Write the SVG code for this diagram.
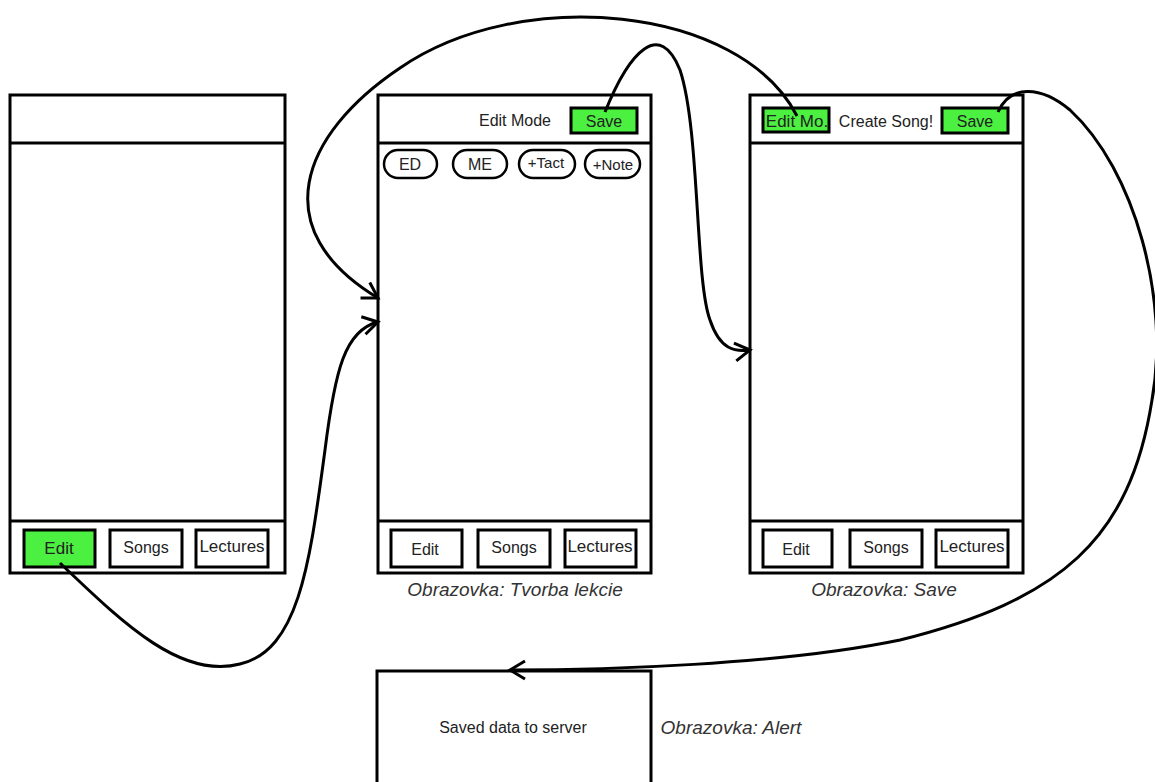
<svg xmlns="http://www.w3.org/2000/svg" width="1155" height="782" viewBox="0 0 1155 782">
<style>
.frame{fill:#fff;stroke:#000;stroke-width:3}
.sep{stroke:#000;stroke-width:3}
.btn{fill:#fff;stroke:#000;stroke-width:3}
.gbtn{fill:#4cf040;stroke:#000;stroke-width:3}
.pill{fill:#fff;stroke:#000;stroke-width:2.5}
.t{font-family:"Liberation Sans",Arial,sans-serif;font-size:16px;fill:#222;text-anchor:middle;dominant-baseline:central}
.cap{font-family:"Liberation Sans",Arial,sans-serif;font-size:19px;font-style:italic;fill:#333;text-anchor:middle;dominant-baseline:central}
.conn{fill:none;stroke:#000;stroke-width:3}
</style>
<defs>
<marker id="arr" markerUnits="userSpaceOnUse" markerWidth="24" markerHeight="24" refX="18" refY="10" orient="auto" viewBox="0 0 24 20">
<path d="M3,1 L18,10 L3,19" fill="none" stroke="#000" stroke-width="3"/>
</marker>
</defs>
<g id="screen1">
<rect class="frame" x="10" y="95" width="275" height="478"/>
<line class="sep" x1="10" y1="143" x2="285" y2="143"/>
<line class="sep" x1="10" y1="521" x2="285" y2="521"/>
<rect class="gbtn" x="24" y="530" width="71" height="37"/>
<text class="t" x="59" y="548" style="font-size:17px">Edit</text>
<rect class="btn" x="110" y="530" width="72" height="37"/>
<text class="t" x="146" y="547">Songs</text>
<rect class="btn" x="196" y="530" width="72" height="37"/>
<text class="t" x="232" y="546" style="font-size:17px">Lectures</text>
</g>
<g id="screen2">
<rect class="frame" x="378" y="95" width="273" height="478"/>
<line class="sep" x1="378" y1="143" x2="651" y2="143"/>
<line class="sep" x1="378" y1="521" x2="651" y2="521"/>
<text class="t" x="515" y="120">Edit Mode</text>
<rect class="gbtn" x="571" y="108" width="66" height="25"/>
<text class="t" x="604" y="121">Save</text>
<rect class="pill" x="384" y="150" width="53" height="28" rx="14"/>
<text class="t" x="410" y="164">ED</text>
<rect class="pill" x="453" y="150" width="54" height="28" rx="14"/>
<text class="t" x="480" y="164">ME</text>
<rect class="pill" x="519" y="150" width="56" height="28" rx="14"/>
<text class="t" x="546" y="162" style="font-size:15px">+Tact</text>
<rect class="pill" x="585" y="150" width="55" height="28" rx="14"/>
<text class="t" x="613" y="164" style="font-size:15px">+Note</text>
<rect class="btn" x="391" y="530" width="71" height="37"/>
<text class="t" x="425" y="549">Edit</text>
<rect class="btn" x="478" y="530" width="72" height="37"/>
<text class="t" x="514" y="547">Songs</text>
<rect class="btn" x="565" y="530" width="71" height="37"/>
<text class="t" x="600" y="546" style="font-size:17px">Lectures</text>
<text class="cap" x="515" y="589">Obrazovka: Tvorba lekcie</text>
</g>
<g id="screen3">
<rect class="frame" x="750" y="95" width="273" height="478"/>
<line class="sep" x1="750" y1="143" x2="1023" y2="143"/>
<line class="sep" x1="750" y1="521" x2="1023" y2="521"/>
<rect class="gbtn" x="763" y="108" width="66" height="24"/>
<text class="t" x="797" y="121" style="font-size:17px">Edit Mo.</text>
<text class="t" x="886" y="121">Create Song!</text>
<rect class="gbtn" x="942" y="108" width="66" height="25"/>
<text class="t" x="975" y="121">Save</text>
<rect class="btn" x="763" y="530" width="69" height="37"/>
<text class="t" x="796" y="549">Edit</text>
<rect class="btn" x="850" y="530" width="72" height="37"/>
<text class="t" x="886" y="547">Songs</text>
<rect class="btn" x="936" y="530" width="72" height="37"/>
<text class="t" x="972" y="546" style="font-size:17px">Lectures</text>
<text class="cap" x="884" y="589">Obrazovka: Save</text>
</g>
<g id="alert">
<rect class="frame" x="377" y="671" width="274" height="120"/>
<text class="t" x="513" y="727">Saved data to server</text>
<text class="cap" x="731" y="727">Obrazovka: Alert</text>
</g>
<g id="connectors">
<path class="conn" marker-end="url(#arr)" d="M60,563 C120,620 180,680 240,664 C300,650 310,560 325,450 C335,370 345,330 378,322"/>
<path class="conn" marker-end="url(#arr)" d="M797,116 C740,5 520,-15 400,68 C300,135 265,230 378,298"/>
<path class="conn" marker-end="url(#arr)" d="M605,112 C630,50 660,20 680,70 C700,130 695,280 710,320 C720,350 735,352 750,350"/>
<path class="conn" marker-end="url(#arr)" d="M998,112 C1010,85 1040,85 1070,110 C1135,170 1170,300 1152,400 C1130,540 1060,600 900,640 C780,665 600,670 510,670"/>
</g>
</svg>
